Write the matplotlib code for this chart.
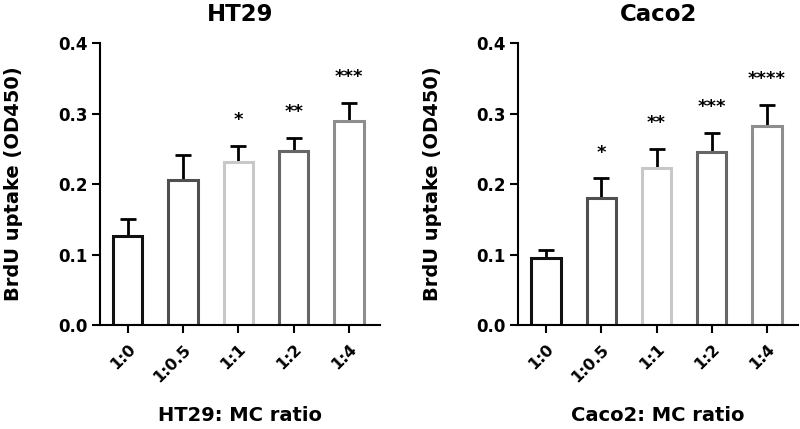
import matplotlib
matplotlib.use("Agg")
from matplotlib import pyplot as plt
import numpy as np

plt.rcParams['font.family'] = ['DejaVu Sans']
plt.rcParams['font.weight'] = 'bold'

ratios = ["1:0", "1:0.5", "1:1", "1:2", "1:4"]
edge_colors = ["#111111", "#4f4f4f", "#c8c8c8", "#666666", "#8e8e8e"]

ht29_mean = [0.126, 0.206, 0.231, 0.247, 0.289]
ht29_sem = [0.025, 0.035, 0.023, 0.019, 0.026]
ht29_stars = ["", "", "*", "**", "***"]

caco2_mean = [0.095, 0.180, 0.223, 0.246, 0.283]
caco2_sem = [0.011, 0.028, 0.027, 0.027, 0.029]
caco2_stars = ["", "*", "**", "***", "****"]

panels = [
    ("HT29", ht29_mean, ht29_sem, ht29_stars, "HT29: MC ratio"),
    ("Caco2", caco2_mean, caco2_sem, caco2_stars, "Caco2: MC ratio"),
]

fig = plt.figure(figsize=(8, 4.29), dpi=100)
axes_pos = [[0.125, 0.2424, 0.35, 0.657], [0.648, 0.2424, 0.3495, 0.657]]

for pos, (title, mean, sem, stars, xlabel) in zip(axes_pos, panels):
    ax = fig.add_axes(pos)
    x = np.arange(len(ratios))
    ax.bar(x, mean, width=0.53, color="white", edgecolor=edge_colors,
           linewidth=2.2, zorder=2)
    ax.errorbar(x, mean, yerr=[np.zeros(len(sem)), sem], fmt="none",
                ecolor="black", elinewidth=2.0, capsize=6, capthick=2.0,
                zorder=1)
    for xi, m, s, st in zip(x, mean, sem, stars):
        if st:
            ax.text(xi, m + s + 0.024, st, ha="center", va="bottom",
                    fontsize=13, fontweight="bold")
    ax.set_xlim(-0.5, 4.56)
    ax.set_ylim(0, 0.4)
    ax.set_yticks([0.0, 0.1, 0.2, 0.3, 0.4])
    ax.set_yticklabels(["0.0", "0.1", "0.2", "0.3", "0.4"])
    ax.set_xticks(x)
    ax.set_xticklabels(ratios, rotation=45, ha="right", rotation_mode="anchor")
    ax.tick_params(axis="both", labelsize=12, width=1.5, length=6,
                   direction="out")
    ax.tick_params(axis="x", pad=6, labelsize=11.5)
    ax.tick_params(axis="y", pad=3)
    for lbl in ax.get_xticklabels() + ax.get_yticklabels():
        lbl.set_fontweight("bold")
    ax.spines["top"].set_visible(False)
    ax.spines["right"].set_visible(False)
    ax.spines["left"].set_linewidth(1.5)
    ax.spines["bottom"].set_linewidth(1.5)
    ax.set_title(title, fontsize=16.5, fontweight="bold", pad=16)
    ax.set_ylabel("BrdU uptake (OD450)", fontsize=14, fontweight="bold",
                  labelpad=25)
    ax.set_xlabel(xlabel, fontsize=14, fontweight="bold", labelpad=15)

fig.savefig("out.png", dpi=100)
